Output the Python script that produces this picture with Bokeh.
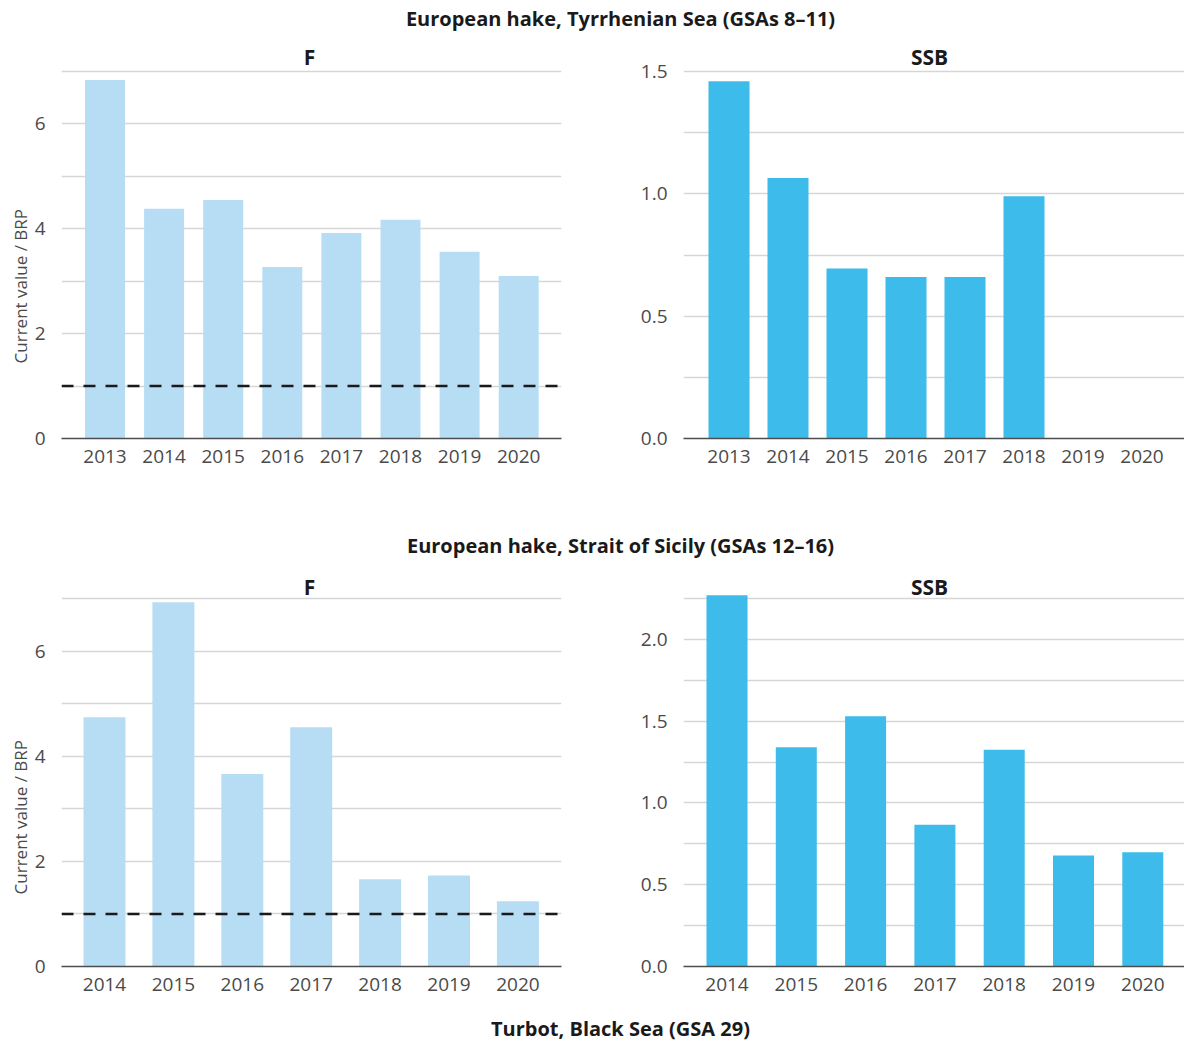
from bokeh.plotting import figure
from bokeh.layouts import column, row
from bokeh.models import FixedTicker, Span, Label, Range1d, NumeralTickFormatter
from bokeh.embed import file_html
from bokeh.resources import INLINE

# ---------------- data ----------------
years_tyr = [2013, 2014, 2015, 2016, 2017, 2018, 2019, 2020]
f_tyr = [6.84, 4.38, 4.55, 3.27, 3.92, 4.17, 3.56, 3.10]
ssb_tyr = [1.46, 1.065, 0.695, 0.66, 0.66, 0.99, float("nan"), float("nan")]

years_sic = [2014, 2015, 2016, 2017, 2018, 2019, 2020]
f_sic = [4.74, 6.93, 3.66, 4.55, 1.66, 1.73, 1.24]
ssb_sic = [2.27, 1.34, 1.53, 0.867, 1.325, 0.679, 0.699]

f_ref = 1.0
f_label_ticks = [0, 2, 4, 6]
f_grid_ticks = [1, 2, 3, 4, 5, 6, 7]
ssb_tyr_label_ticks = [0.0, 0.5, 1.0, 1.5]
ssb_tyr_grid_ticks = [0.25, 0.5, 0.75, 1.0, 1.25, 1.5]
ssb_sic_label_ticks = [0.0, 0.5, 1.0, 1.5, 2.0]
ssb_sic_grid_ticks = [0.25, 0.5, 0.75, 1.0, 1.25, 1.5, 1.75, 2.0, 2.25]

group_titles = ["European hake, Tyrrhenian Sea (GSAs 8\u201311)",
                "European hake, Strait of Sicily (GSAs 12\u201316)",
                "Turbot, Black Sea (GSA 29)"]
ylab = "Current value / BRP"

FONT = "Open Sans"
F_COLOR = "#b7ddf5"
SSB_COLOR = "#3dbbea"
TEXT = "#1a1a1a"
TICK = "#4a4a4a"
GRID = "#d6d6d6"
AXIS = "#4d4d4d"
TOTAL_W = 1184


def panel(years, vals, color, fig_x0, fig_w, fig_y0, fig_h, frame_left, frame_right,
          frame_bottom, c0, spacing, bar_px, val_px_top, val_top, label_ticks,
          grid_ticks, fmt, title, title_px, ref=None):
    scale = (frame_bottom - val_px_top) / val_top
    frame_top = fig_y0
    ytop = (frame_bottom - frame_top) / scale
    xs = years[0] - (c0 - frame_left) / spacing
    xe = years[0] + (frame_right - c0) / spacing
    p = figure(width=fig_w, height=fig_h, x_range=Range1d(xs, xe), y_range=Range1d(0, ytop),
               output_backend="svg", toolbar_location=None,
               min_border_left=frame_left - fig_x0, min_border_right=fig_x0 + fig_w - frame_right,
               min_border_top=0, min_border_bottom=fig_y0 + fig_h - frame_bottom)
    p.outline_line_color = None
    p.vbar(x=years, top=vals, width=bar_px / spacing, bottom=0, fill_color=color, line_color=None)
    if ref is not None:
        p.add_layout(Span(location=ref, dimension="width", line_color="#1a1a1a",
                          line_width=2.5, line_dash="12 10"))
    p.xgrid.visible = False
    p.ygrid.ticker = FixedTicker(ticks=grid_ticks)
    p.ygrid.grid_line_color = GRID
    p.ygrid.grid_line_width = 1.3
    xa = p.xaxis[0]
    xa.ticker = FixedTicker(ticks=years)
    xa.major_tick_line_color = None
    xa.minor_tick_line_color = None
    xa.axis_line_color = AXIS
    xa.axis_line_width = 1.6
    xa.major_label_standoff = 5
    xa.major_label_text_font = FONT
    xa.major_label_text_font_size = "19px"
    xa.major_label_text_color = TICK
    ya = p.yaxis[0]
    ya.ticker = FixedTicker(ticks=label_ticks)
    ya.axis_line_color = None
    ya.major_tick_line_color = None
    ya.minor_tick_line_color = None
    ya.major_label_standoff = 10
    ya.major_label_text_font = FONT
    ya.major_label_text_font_size = "19px"
    ya.major_label_text_color = TICK
    if fmt:
        ya.formatter = NumeralTickFormatter(format=fmt)
    tx = years[0] + (title_px - c0) / spacing
    ty = (frame_bottom - (fig_y0 + 16)) / scale
    p.add_layout(Label(x=tx, y=ty, text=title, text_font=FONT, text_font_style="bold",
                       text_font_size="21px", text_color=TEXT, text_align="center",
                       text_baseline="middle"))
    return p


def ylabel_fig(h, x_center, y_center_from_top, w):
    p = figure(width=w, height=h, x_range=Range1d(0, w), y_range=Range1d(0, h),
               x_axis_type=None, y_axis_type=None,
               output_backend="svg", toolbar_location=None, min_border=0)
    p.grid.visible = False
    p.outline_line_color = None
    p.add_layout(Label(x=x_center, y=h - y_center_from_top, text=ylab, angle=1.5708,
                       angle_units="rad", text_font=FONT, text_font_size="17px",
                       text_color=TICK, text_align="center", text_baseline="middle"))
    return p


def header(text, h, y_center_from_top):
    p = figure(width=TOTAL_W, height=h, x_range=Range1d(0, TOTAL_W), y_range=Range1d(0, h),
               x_axis_type=None, y_axis_type=None,
               output_backend="svg", toolbar_location=None, min_border=0)
    p.grid.visible = False
    p.outline_line_color = None
    p.add_layout(Label(x=620, y=h - y_center_from_top, text=text, text_font=FONT,
                       text_font_style="bold", text_font_size="20px", text_color=TEXT,
                       text_align="center", text_baseline="middle"))
    return p


LW = 30
h1 = header(group_titles[0], 40, 18)
yl1 = ylabel_fig(460, 20, 284, LW)
tl = panel(years_tyr, f_tyr, F_COLOR, LW, 600 - LW, 40, 460, 61, 561, 438, 104.5, 59.1, 40,
           71, 7, f_label_ticks, f_grid_ticks, None, "F", 309, ref=f_ref)
tr = panel(years_tyr, ssb_tyr, SSB_COLOR, 600, 584, 40, 460, 683, 1184, 438, 728.5, 59.0, 41,
           71, 1.5, ssb_tyr_label_ticks, ssb_tyr_grid_ticks, "0.0", "SSB", 929)
h2 = header(group_titles[1], 70, 45)
yl2 = ylabel_fig(435, 20, 271, LW)
bl = panel(years_sic, f_sic, F_COLOR, LW, 600 - LW, 570, 435, 61, 561, 966, 104, 68.9, 42,
           598, 7, f_label_ticks, f_grid_ticks, None, "F", 309, ref=f_ref)
br = panel(years_sic, ssb_sic, SSB_COLOR, 600, 584, 570, 435, 683, 1184, 966, 726.5, 69.3, 41,
           598, 2.25, ssb_sic_label_ticks, ssb_sic_grid_ticks, "0.0", "SSB", 929)
h3 = header(group_titles[2], 38, 23)

layout = column(h1, row(yl1, tl, tr, spacing=0), h2, row(yl2, bl, br, spacing=0), h3, spacing=0)

open("out.html", "w").write(file_html(layout, INLINE))
